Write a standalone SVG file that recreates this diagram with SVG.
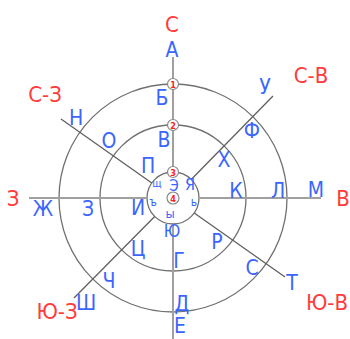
<svg xmlns="http://www.w3.org/2000/svg" width="350" height="339" viewBox="0 0 350 339">
<style>
text{font-family:"DejaVu Sans Condensed","DejaVu Sans",sans-serif;font-stretch:condensed;text-anchor:middle}
.r{fill:#ff3b3b;font-size:22px}
.b{fill:#3a66ff;font-size:21px}
.s{fill:#3a66ff;font-size:14px}
.m{fill:#ff2020;font-size:9px;font-weight:bold}
.ring{fill:none;stroke:#707070;stroke-width:1.3}
.ax{stroke:#a0a0a0;stroke-width:2}
.dg{stroke:#606060;stroke-width:1.3}
.mk{fill:#fff;stroke:#888;stroke-width:1.2}
</style>
<rect width="350" height="339" fill="#fff"/>
<g id="rings">
<circle class="ring" cx="173" cy="198" r="114"/>
<circle class="ring" cx="173" cy="198" r="73"/>
<circle class="ring" cx="173" cy="198" r="26"/>
</g>
<g id="connectors">
<line class="ax" x1="173" y1="57" x2="173" y2="172"/>
<line class="ax" x1="173" y1="224" x2="173" y2="339"/>
<line class="ax" x1="29" y1="198" x2="147" y2="198"/>
<line class="ax" x1="199" y1="198" x2="321" y2="198"/>
<line class="dg" x1="151.8" y1="183" x2="61" y2="119"/>
<line class="dg" x1="191.2" y1="179.5" x2="273" y2="96"/>
<line class="dg" x1="154.7" y1="216.5" x2="74" y2="298"/>
<line class="dg" x1="194.2" y1="213" x2="285" y2="277"/>
</g>
<g id="markers">
<g id="m1"><circle class="mk" cx="173" cy="84" r="5.5"/><text class="m" x="173" y="87.5">1</text></g>
<g id="m2"><circle class="mk" cx="173" cy="125" r="5.5"/><text class="m" x="173" y="128.5">2</text></g>
<g id="m3"><circle class="mk" cx="173" cy="172" r="5.5"/><text class="m" x="173" y="175.5">3</text></g>
<g id="m4"><circle class="mk" cx="173" cy="198" r="6"/><text class="m" x="173" y="201.5">4</text></g>
</g>
<g id="directions">
<text class="r" x="172" y="32">С</text>
<text class="r" x="45" y="102">С-З</text>
<text class="r" x="311" y="83">С-В</text>
<text class="r" x="13" y="206">З</text>
<text class="r" x="343" y="206">В</text>
<text class="r" x="57" y="319">Ю-З</text>
<text class="r" x="327" y="310">Ю-В</text>
</g>
<g id="letters">
<text class="b" x="172" y="57">А</text>
<text class="b" x="162" y="105">Б</text>
<text class="b" x="164" y="147">В</text>
<text class="b" x="179" y="268">Г</text>
<text class="b" x="182" y="311">Д</text>
<text class="b" x="180" y="333">Е</text>
<text class="b" x="43" y="216">Ж</text>
<text class="b" x="88" y="216">З</text>
<text class="b" x="138" y="215">И</text>
<text class="b" x="236" y="198">К</text>
<text class="b" x="278" y="198">Л</text>
<text class="b" x="316" y="197">М</text>
<text class="b" x="76" y="125">Н</text>
<text class="b" x="109" y="148">О</text>
<text class="b" x="148" y="173">П</text>
<text class="b" x="217" y="249">Р</text>
<text class="b" x="252" y="275">С</text>
<text class="b" x="292" y="290">Т</text>
<text class="b" x="265" y="94">У</text>
<text class="b" x="252" y="138">Ф</text>
<text class="b" x="224" y="167">Х</text>
<text class="b" x="138" y="256">Ц</text>
<text class="b" x="109" y="288">Ч</text>
<text class="b" x="86" y="310">Ш</text>
<text class="s" x="157" y="187" style="font-size:11px">щ</text>
<text class="s" x="153" y="206" style="font-size:12px">ъ</text>
<text class="s" x="170" y="218" style="font-size:13px">ы</text>
<text class="s" x="194" y="206" style="font-size:12px">ь</text>
<text class="s" x="174" y="191" style="font-size:15px">Э</text>
<text class="b" x="172" y="237" style="font-size:17px">Ю</text>
<text class="s" x="190" y="190" style="font-size:16px">Я</text>
</g>
</svg>
